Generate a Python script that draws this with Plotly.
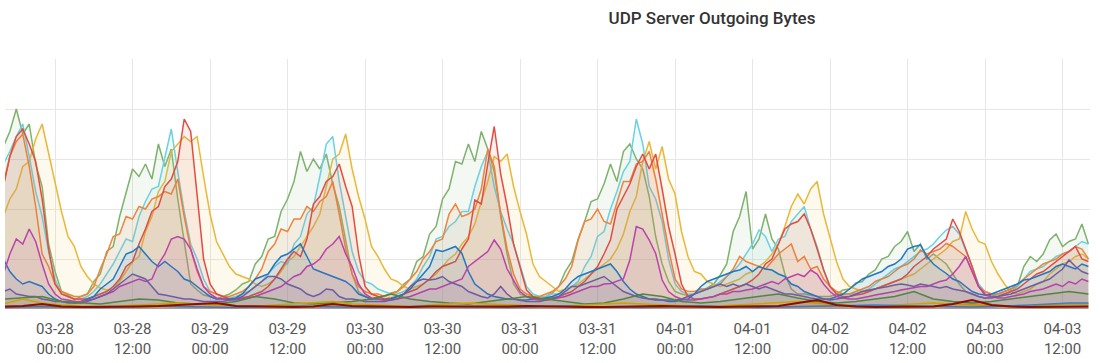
import pandas as pd
import plotly.graph_objects as go

# hourly timestamps (start 03-27 16:00, 169 points) and 3-hourly for minor series
times_h = pd.date_range("2023-03-27 16:00", periods=169, freq="h")
times_3h = pd.date_range("2023-03-27 16:00", periods=57, freq="3h")

tick_vals = pd.date_range("2023-03-28 00:00", "2023-04-03 12:00", freq="12h")
tick_text = [t.strftime("%m-%d") + "<br>" + t.strftime("%H:%M") for t in tick_vals]

green = [3.25, 3.55, 4.0, 3.5, 3.7, 2.9, 2.45, 1.3, 0.75, 0.35, 0.28, 0.18, 0.25, 0.3, 0.55, 0.7,
         1.15, 1.25, 1.85, 2.35, 2.8, 2.65, 2.9, 2.6, 3.3, 2.85, 3.2, 2.2, 1.3, 0.5, 0.38, 0.28,
         0.25, 0.2, 0.25, 0.3, 0.38, 0.5, 0.55, 0.9, 1.05, 1.4, 1.45, 1.95, 2.2, 2.55, 3.15, 2.75,
         3.0, 2.8, 3.1, 2.5, 2.05, 1.35, 0.7, 0.35, 0.25, 0.2, 0.24, 0.25, 0.32, 0.35, 0.5, 0.6,
         0.95, 1.05, 1.5, 1.65, 2.2, 2.4, 2.95, 2.9, 3.3, 2.95, 3.55, 3.2, 2.75, 1.85, 1.1, 0.5,
         0.3, 0.25, 0.2, 0.24, 0.25, 0.32, 0.45, 0.75, 0.95, 1.4, 1.75, 2.15, 2.2, 2.5, 2.9, 2.55,
         3.15, 3.3, 3.0, 2.8, 2.25, 1.45, 0.9, 0.55, 0.35, 0.3, 0.27, 0.3, 0.36, 0.42, 0.5, 0.68,
         0.9, 1.55, 1.85, 2.35, 1.2, 1.4, 1.9, 1.4, 1.2, 0.7, 0.4, 0.3, 0.3, 0.28, 0.25, 0.25,
         0.25, 0.3, 0.38, 0.4, 0.52, 0.55, 0.7, 0.78, 1.0, 1.05, 1.25, 1.35, 1.55, 1.15, 1.3, 1.0,
         1.1, 1.0, 0.9, 0.7, 0.5, 0.35, 0.3, 0.25, 0.22, 0.25, 0.3, 0.35, 0.4, 0.45, 0.85, 1.05,
         0.95, 1.1, 1.38, 1.5, 1.25, 1.35, 1.4, 1.7, 1.3]

yellow = [1.85, 2.2, 2.4, 2.85, 2.95, 3.4, 3.7, 3.1, 2.55, 1.95, 1.45, 1.25, 0.85, 0.65, 0.5, 0.42,
          0.38, 0.4, 0.55, 0.75, 0.95, 1.05, 1.55, 1.85, 2.35, 2.55, 3.15, 3.3, 3.45, 3.35, 3.45, 2.65,
          1.9, 1.35, 1.1, 0.85, 0.7, 0.65, 0.6, 0.5, 0.45, 0.5, 0.6, 0.75, 0.95, 1.05, 1.25, 1.45,
          1.65, 1.9, 2.45, 3.0, 3.1, 3.5, 2.8, 2.25, 1.8, 1.25, 1.05, 0.8, 0.6, 0.55, 0.45, 0.4,
          0.45, 0.5, 0.6, 0.7, 0.85, 1.0, 1.1, 1.3, 1.45, 1.7, 2.15, 2.55, 3.05, 2.95, 3.1, 2.45,
          1.95, 1.5, 0.9, 0.65, 0.55, 0.45, 0.35, 0.4, 0.45, 0.5, 0.6, 0.7, 0.8, 0.9, 1.0, 1.2,
          1.5, 1.95, 2.25, 2.95, 3.35, 2.8, 3.25, 2.6, 2.3, 1.55, 1.05, 0.75, 0.7, 0.55, 0.5, 0.45,
          0.5, 0.55, 0.6, 0.7, 0.75, 0.85, 0.95, 1.1, 1.3, 1.65, 2.05, 2.3, 2.1, 2.4, 2.55, 1.9,
          1.4, 0.95, 0.6, 0.45, 0.4, 0.35, 0.35, 0.4, 0.45, 0.5, 0.55, 0.6, 0.65, 0.7, 0.8, 0.9,
          1.0, 1.1, 1.2, 1.35, 1.4, 1.95, 1.6, 1.35, 1.3, 0.95, 0.7, 0.5, 0.35, 0.3, 0.35, 0.4,
          0.5, 0.55, 0.7, 0.8, 0.9, 0.95, 1.05, 1.1, 1.0]

light_blue = [2.9, 3.15, 3.45, 3.7, 3.05, 2.35, 1.85, 1.15, 0.6, 0.3, 0.25, 0.2, 0.2, 0.25, 0.35, 0.5,
              0.7, 0.9, 1.15, 1.4, 1.35, 1.85, 2.15, 2.4, 2.45, 3.05, 3.6, 2.75, 1.95, 1.3, 1.0, 0.6,
              0.35, 0.3, 0.25, 0.22, 0.25, 0.3, 0.35, 0.45, 0.55, 0.7, 0.85, 0.95, 0.9, 1.3, 1.45, 1.9,
              2.05, 2.65, 3.3, 3.45, 2.55, 1.85, 1.15, 0.75, 0.55, 0.5, 0.4, 0.35, 0.3, 0.3, 0.35, 0.45,
              0.6, 0.85, 1.05, 1.4, 1.45, 1.65, 1.75, 1.95, 1.95, 2.45, 2.85, 3.15, 2.45, 1.95, 1.6, 1.3,
              0.85, 0.45, 0.3, 0.25, 0.25, 0.3, 0.3, 0.35, 0.45, 0.55, 0.85, 1.05, 1.45, 1.55, 2.0, 2.35,
              2.75, 2.95, 3.8, 3.3, 2.45, 2.2, 1.75, 1.0, 0.5, 0.35, 0.3, 0.3, 0.35, 0.4, 0.45, 0.55,
              0.65, 0.75, 0.9, 1.1, 1.3, 1.58, 1.45, 1.15, 1.4, 1.45, 1.75, 1.9, 2.05, 1.6, 1.25, 0.8,
              0.45, 0.35, 0.3, 0.3, 0.3, 0.35, 0.4, 0.5, 0.6, 0.7, 0.8, 0.85, 0.95, 1.05, 1.15, 1.2,
              1.3, 1.45, 1.58, 1.65, 1.5, 1.18, 0.85, 0.5, 0.35, 0.3, 0.3, 0.3, 0.35, 0.45, 0.6, 0.75,
              0.8, 0.85, 0.95, 1.05, 1.1, 1.15, 1.25, 1.35, 1.3]

orange = [2.5, 3.05, 3.35, 3.5, 2.85, 2.05, 1.1, 0.85, 0.5, 0.35, 0.3, 0.25, 0.25, 0.3, 0.45, 0.8,
          1.1, 1.45, 1.5, 1.85, 1.8, 2.05, 2.0, 2.2, 2.25, 2.35, 2.3, 2.6, 1.85, 1.2, 0.75, 0.45,
          0.35, 0.3, 0.25, 0.25, 0.3, 0.35, 0.45, 0.6, 0.8, 1.15, 1.3, 1.6, 1.55, 1.8, 1.8, 2.05,
          1.95, 2.15, 2.25, 2.55, 1.9, 1.2, 0.7, 0.45, 0.35, 0.3, 0.3, 0.25, 0.3, 0.35, 0.45, 0.6,
          0.75, 1.0, 1.15, 1.35, 1.4, 1.9, 2.1, 1.85, 1.9, 2.0, 2.4, 3.2, 2.85, 1.9, 1.2, 0.7,
          0.4, 0.3, 0.25, 0.25, 0.3, 0.35, 0.45, 0.6, 0.85, 1.38, 1.75, 1.8, 2.0, 1.75, 1.7, 2.15,
          2.55, 2.55, 2.9, 2.95, 3.15, 2.6, 1.9, 1.2, 0.6, 0.4, 0.35, 0.35, 0.4, 0.4, 0.45, 0.5,
          0.65, 0.8, 1.05, 0.95, 0.9, 0.85, 0.8, 0.95, 1.1, 1.2, 1.3, 0.95, 1.05, 0.8, 0.85, 0.6,
          0.45, 0.35, 0.3, 0.3, 0.35, 0.4, 0.45, 0.55, 0.6, 0.65, 0.75, 0.85, 0.9, 1.0, 1.18, 1.1,
          1.15, 1.2, 1.31, 1.25, 1.15, 1.05, 0.75, 0.45, 0.35, 0.3, 0.3, 0.35, 0.4, 0.5, 0.6, 0.7,
          0.8, 0.9, 0.95, 1.0, 1.1, 1.15, 1.25, 1.2, 1.0]

red = [2.45, 3.05, 3.45, 3.6, 3.3, 2.95, 2.2, 1.2, 0.5, 0.3, 0.25, 0.2, 0.2, 0.2, 0.25, 0.3,
       0.35, 0.45, 0.6, 0.85, 0.95, 1.3, 1.6, 1.95, 2.05, 2.45, 2.6, 2.95, 3.8, 3.55, 2.2, 1.0,
       0.5, 0.3, 0.25, 0.2, 0.2, 0.22, 0.25, 0.3, 0.35, 0.45, 0.6, 0.8, 1.0, 1.15, 1.05, 1.4,
       2.1, 2.25, 2.55, 2.65, 2.9, 2.45, 2.05, 1.1, 0.45, 0.3, 0.25, 0.2, 0.22, 0.25, 0.3, 0.35,
       0.4, 0.5, 0.6, 0.75, 0.85, 0.9, 0.95, 1.2, 1.4, 2.18, 2.1, 2.9, 3.65, 2.7, 2.05, 1.3,
       0.85, 0.38, 0.25, 0.2, 0.2, 0.22, 0.25, 0.3, 0.35, 0.45, 0.55, 0.7, 0.85, 1.1, 1.38, 2.0,
       2.25, 2.5, 2.85, 3.1, 2.8, 3.1, 2.4, 1.65, 1.1, 0.5, 0.25, 0.2, 0.2, 0.22, 0.25, 0.3,
       0.35, 0.4, 0.45, 0.5, 0.58, 0.7, 0.9, 1.0, 1.3, 1.6, 1.7, 1.75, 1.9, 1.6, 1.2, 0.78,
       0.45, 0.3, 0.25, 0.25, 0.28, 0.3, 0.35, 0.4, 0.45, 0.5, 0.55, 0.6, 0.7, 0.85, 0.95, 1.05,
       1.2, 1.3, 1.4, 1.8, 1.55, 1.2, 0.85, 0.45, 0.28, 0.25, 0.25, 0.3, 0.35, 0.4, 0.5, 0.6,
       0.7, 0.75, 0.85, 0.95, 1.05, 1.15, 1.25, 1.0, 0.95]

blue = [1.0, 0.75, 0.6, 0.5, 0.55, 0.5, 0.45, 0.3, 0.2, 0.15, 0.15, 0.12, 0.15, 0.2, 0.25, 0.4,
        0.5, 0.6, 0.85, 1.1, 1.15, 1.25, 1.1, 0.95, 0.85, 0.95, 0.85, 0.75, 0.6, 0.55, 0.45, 0.35,
        0.25, 0.2, 0.2, 0.2, 0.22, 0.3, 0.45, 0.6, 0.65, 0.7, 0.9, 1.05, 1.1, 1.2, 1.3, 1.05,
        0.8, 0.75, 0.7, 0.65, 0.6, 0.55, 0.45, 0.3, 0.25, 0.2, 0.2, 0.18, 0.2, 0.25, 0.3, 0.4,
        0.55, 0.7, 0.85, 1.18, 1.15, 1.2, 1.25, 1.11, 0.75, 0.5, 0.4, 0.3, 0.25, 0.22, 0.2, 0.2,
        0.18, 0.18, 0.2, 0.2, 0.22, 0.25, 0.3, 0.4, 0.55, 0.65, 0.7, 0.75, 0.8, 0.85, 0.9, 0.75,
        0.55, 0.4, 0.3, 0.25, 0.2, 0.18, 0.18, 0.15, 0.15, 0.18, 0.2, 0.3, 0.45, 0.55, 0.6, 0.65,
        0.7, 0.75, 0.78, 0.85, 0.75, 0.85, 0.8, 0.78, 0.7, 0.65, 0.5, 0.45, 0.35, 0.3, 0.25, 0.2,
        0.2, 0.25, 0.3, 0.4, 0.5, 0.6, 0.65, 0.7, 0.75, 0.85, 0.9, 1.0, 1.2, 1.25, 1.28, 1.05,
        0.9, 0.8, 0.71, 0.6, 0.55, 0.45, 0.35, 0.3, 0.28, 0.3, 0.35, 0.4, 0.45, 0.5, 0.58, 0.6,
        0.65, 0.7, 0.75, 0.85, 0.9, 0.85, 0.8, 0.9, 0.85]

magenta = [0.7, 1.1, 1.4, 1.3, 1.6, 1.35, 0.9, 0.5, 0.3, 0.2, 0.18, 0.15, 0.15, 0.18, 0.2, 0.25,
           0.3, 0.35, 0.45, 0.5, 0.55, 0.6, 0.55, 0.6, 0.9, 1.1, 1.4, 1.45, 1.4, 1.2, 0.8, 0.45,
           0.3, 0.22, 0.2, 0.18, 0.18, 0.2, 0.22, 0.25, 0.3, 0.35, 0.4, 0.45, 0.55, 0.65, 0.7, 0.85,
           0.9, 1.0, 1.2, 1.3, 1.45, 1.1, 0.85, 0.5, 0.3, 0.22, 0.2, 0.18, 0.18, 0.2, 0.22, 0.25,
           0.3, 0.35, 0.4, 0.4, 0.45, 0.5, 0.55, 0.6, 0.85, 0.95, 1.05, 1.15, 1.38, 1.2, 0.8, 0.58,
           0.35, 0.25, 0.2, 0.18, 0.18, 0.2, 0.22, 0.25, 0.3, 0.35, 0.4, 0.45, 0.45, 0.5, 0.51, 0.55,
           0.6, 0.98, 1.65, 1.6, 1.38, 1.11, 0.58, 0.35, 0.25, 0.2, 0.18, 0.18, 0.2, 0.22, 0.25, 0.3,
           0.3, 0.35, 0.35, 0.38, 0.4, 0.45, 0.5, 0.55, 0.5, 0.6, 0.65, 0.7, 0.65, 0.78, 0.7, 0.5,
           0.35, 0.25, 0.22, 0.2, 0.2, 0.22, 0.25, 0.28, 0.3, 0.32, 0.35, 0.38, 0.4, 0.42, 0.45, 0.45,
           0.5, 0.55, 0.58, 0.7, 0.85, 1.05, 0.75, 0.45, 0.3, 0.25, 0.22, 0.22, 0.25, 0.28, 0.3, 0.35,
           0.38, 0.4, 0.45, 0.5, 0.45, 0.55, 0.5, 0.6, 0.55]

violet = [0.35, 0.4, 0.3, 0.28, 0.25, 0.25, 0.2, 0.18, 0.15, 0.15, 0.12, 0.12, 0.12, 0.15, 0.2, 0.25,
          0.3, 0.4, 0.5, 0.6, 0.7, 0.65, 0.6, 0.45, 0.3, 0.28, 0.25, 0.22, 0.2, 0.2, 0.18, 0.15,
          0.15, 0.15, 0.15, 0.18, 0.2, 0.25, 0.35, 0.45, 0.55, 0.65, 0.65, 0.6, 0.5, 0.45, 0.4, 0.3,
          0.25, 0.3, 0.4, 0.38, 0.25, 0.2, 0.2, 0.18, 0.15, 0.15, 0.15, 0.15, 0.18, 0.2, 0.3, 0.45,
          0.55, 0.6, 0.58, 0.6, 0.65, 0.55, 0.5, 0.45, 0.35, 0.3, 0.25, 0.22, 0.3, 0.45, 0.3, 0.2,
          0.18, 0.15, 0.15, 0.15, 0.18, 0.2, 0.25, 0.35, 0.45, 0.45, 0.5, 0.55, 0.6, 0.65, 0.55, 0.45,
          0.35, 0.3, 0.25, 0.22, 0.2, 0.2, 0.18, 0.18, 0.18, 0.2, 0.25, 0.3, 0.35, 0.4, 0.45, 0.5,
          0.45, 0.5, 0.45, 0.5, 0.45, 0.4, 0.45, 0.4, 0.35, 0.3, 0.3, 0.28, 0.25, 0.22, 0.2, 0.2,
          0.18, 0.2, 0.22, 0.25, 0.3, 0.35, 0.38, 0.4, 0.42, 0.45, 0.48, 0.5, 0.48, 0.45, 0.5, 0.48,
          0.45, 0.42, 0.45, 0.4, 0.38, 0.35, 0.3, 0.25, 0.22, 0.22, 0.25, 0.28, 0.3, 0.35, 0.4, 0.45,
          0.5, 0.55, 0.6, 0.7, 0.8, 0.98, 0.85, 0.75, 0.7]

dark_green = [0.2, 0.22, 0.25, 0.15, 0.12, 0.1, 0.15, 0.2, 0.18, 0.12, 0.1, 0.1, 0.15, 0.25, 0.2, 0.12,
              0.1, 0.12, 0.15, 0.2, 0.3, 0.2, 0.15, 0.12, 0.1, 0.15, 0.2, 0.25, 0.2, 0.15, 0.1, 0.12,
              0.2, 0.3, 0.25, 0.15, 0.12, 0.15, 0.2, 0.25, 0.3, 0.22, 0.15, 0.12, 0.15, 0.2, 0.25, 0.35,
              0.2, 0.15, 0.12, 0.15, 0.2, 0.25, 0.3, 0.35, 0.3]

dark_yellow = [0.1, 0.2, 0.12, 0.08, 0.06, 0.05, 0.06, 0.08, 0.1, 0.12, 0.1, 0.08, 0.06, 0.05, 0.08, 0.1,
               0.12, 0.15, 0.1, 0.08, 0.06, 0.05, 0.08, 0.1, 0.12, 0.1, 0.08, 0.06, 0.05, 0.06, 0.08, 0.1,
               0.12, 0.1, 0.08, 0.06, 0.05, 0.06, 0.08, 0.1, 0.12, 0.15, 0.12, 0.08, 0.06, 0.05, 0.08, 0.1,
               0.12, 0.1, 0.08, 0.06, 0.05, 0.06, 0.08, 0.1, 0.1]

steel_blue = [0.03, 0.04, 0.05, 0.04, 0.03, 0.03, 0.04, 0.05, 0.06, 0.05, 0.04, 0.03, 0.03, 0.04, 0.05, 0.06,
              0.05, 0.04, 0.03, 0.03, 0.04, 0.05, 0.06, 0.05, 0.04, 0.03, 0.03, 0.04, 0.05, 0.06, 0.05, 0.04,
              0.03, 0.03, 0.04, 0.05, 0.06, 0.05, 0.04, 0.03, 0.04, 0.05, 0.06, 0.07, 0.08, 0.08, 0.07, 0.06,
              0.05, 0.05, 0.04, 0.05, 0.06, 0.08, 0.1, 0.12, 0.12]

dark_red = [0.05, 0.06, 0.1, 0.05, 0.04, 0.04, 0.05, 0.05, 0.06, 0.08, 0.1, 0.12, 0.06, 0.05, 0.04, 0.04,
            0.05, 0.1, 0.06, 0.05, 0.04, 0.04, 0.05, 0.05, 0.04, 0.04, 0.05, 0.06, 0.05, 0.04, 0.04, 0.04,
            0.05, 0.05, 0.06, 0.05, 0.04, 0.04, 0.05, 0.05, 0.06, 0.12, 0.18, 0.08, 0.05, 0.04, 0.04, 0.05,
            0.05, 0.1, 0.18, 0.08, 0.05, 0.04, 0.04, 0.05, 0.05]

series = [
    ("green", green, "#7EB26D", times_h, 1.5),
    ("yellow", yellow, "#EAB839", times_h, 1.5),
    ("light_blue", light_blue, "#6ED0E0", times_h, 1.5),
    ("orange", orange, "#EF843C", times_h, 1.5),
    ("red", red, "#E24D42", times_h, 1.5),
    ("blue", blue, "#1F78C1", times_h, 1.5),
    ("magenta", magenta, "#BA43A9", times_h, 1.5),
    ("violet", violet, "#705DA0", times_h, 1.5),
    ("dark_green", dark_green, "#508642", times_3h, 1.5),
    ("dark_yellow", dark_yellow, "#CCA300", times_3h, 1.5),
    ("steel_blue", steel_blue, "#447EBC", times_3h, 1.5),
    ("dark_red", dark_red, "#890F02", times_3h, 2.0),
]


def rgba(hex_color, a):
    h = hex_color.lstrip("#")
    r, g, b = int(h[0:2], 16), int(h[2:4], 16), int(h[4:6], 16)
    return f"rgba({r},{g},{b},{a})"


fig = go.Figure()
for name, vals, color, xs, lw in series:
    n = min(len(vals), len(xs))
    fig.add_trace(go.Scatter(
        x=xs[:n], y=vals[:n], name=name, mode="lines",
        line=dict(color=color, width=lw),
        fill="tozeroy", fillcolor=rgba(color, 0.09),
        hoverinfo="skip",
    ))

fig.update_layout(
    width=1100, height=363,
    margin=dict(l=5, r=10, t=59, b=54, autoexpand=False),
    paper_bgcolor="white", plot_bgcolor="white",
    showlegend=False,
    title=dict(text="UDP Server Outgoing Bytes", x=712 / 1100, xanchor="center",
               y=1 - 18 / 363, yanchor="middle", automargin=False,
               font=dict(family="Roboto", size=17, color="#333333", weight=500)),
    xaxis=dict(
        type="date", automargin=False,
        range=["2023-03-27 16:15", "2023-04-03 16:15"],
        tickvals=list(tick_vals), ticktext=tick_text,
        showgrid=True, gridcolor="#e6e6e6", gridwidth=1,
        ticks="outside", ticklen=6, tickcolor="rgba(0,0,0,0)",
        tickfont=dict(family="Roboto", size=15, color="#555555"),
        showline=False, zeroline=False,
    ),
    yaxis=dict(
        range=[0, 5], tickvals=[1, 2, 3, 4, 5], automargin=False,
        showticklabels=False, showgrid=True, gridcolor="#e6e6e6", gridwidth=1,
        zeroline=False, showline=False,
    ),
)

fig.write_html("out.html", config={"displayModeBar": False},
               post_script="document.body.style.margin='0px';")
